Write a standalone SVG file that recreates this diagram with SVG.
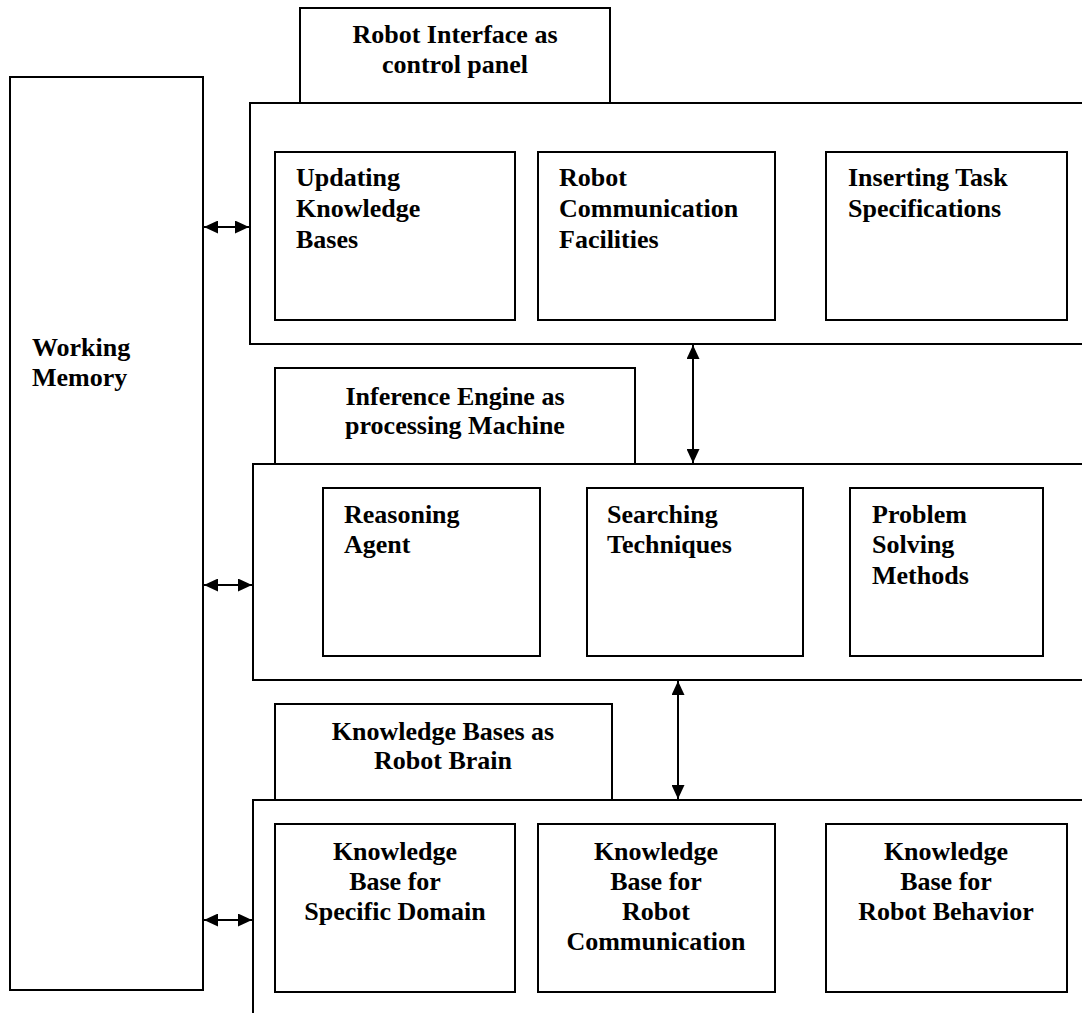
<svg xmlns="http://www.w3.org/2000/svg" width="1082" height="1014" viewBox="0 0 1082 1014">
<style>
.b{fill:#fff;stroke:#000;stroke-width:2}
.l{fill:none;stroke:#000;stroke-width:2}
text{font-family:"Liberation Serif","Times New Roman",serif;font-weight:bold;font-size:26px;fill:#000}
.c{text-anchor:middle}
</style>
<defs>
<marker id="ah" viewBox="0 0 14 13" refX="14" refY="6.5" markerWidth="14" markerHeight="13" markerUnits="userSpaceOnUse" orient="auto-start-reverse">
<path d="M0,0 L14,6.5 L0,13 Z" fill="#000"/>
</marker>
</defs>
<rect width="1082" height="1014" fill="#fff"/>

<g id="working-memory">
<rect class="b" x="10" y="77" width="193" height="913"/>
<text x="32" y="356">Working</text>
<text x="32" y="386">Memory</text>
</g>

<g id="label-interface">
<rect class="b" x="300" y="8" width="310" height="95"/>
<text class="c" x="455" y="43">Robot Interface as</text>
<text class="c" x="455" y="73">control panel</text>
</g>

<g id="panel-interface">
<path class="l" d="M1082,103 H250 V344 H1082"/>
</g>
<g id="updating-kb">
<rect class="b" x="275" y="152" width="240" height="168"/>
<text x="296" y="186">Updating</text>
<text x="296" y="217">Knowledge</text>
<text x="296" y="248">Bases</text>
</g>
<g id="robot-comm-facilities">
<rect class="b" x="538" y="152" width="237" height="168"/>
<text x="559" y="186">Robot</text>
<text x="559" y="217">Communication</text>
<text x="559" y="248">Facilities</text>
</g>
<g id="inserting-task">
<rect class="b" x="826" y="152" width="241" height="168"/>
<text x="848" y="186">Inserting Task</text>
<text x="848" y="217">Specifications</text>
</g>

<g id="label-inference">
<rect class="b" x="275" y="368" width="360" height="96"/>
<text class="c" x="455" y="405">Inference Engine as</text>
<text class="c" x="455" y="434">processing Machine</text>
</g>

<g id="panel-inference">
<path class="l" d="M1082,464 H253 V680 H1082"/>
</g>
<g id="reasoning-agent">
<rect class="b" x="323" y="488" width="217" height="168"/>
<text x="344" y="523">Reasoning</text>
<text x="344" y="553">Agent</text>
</g>
<g id="searching-techniques">
<rect class="b" x="587" y="488" width="216" height="168"/>
<text x="607" y="523">Searching</text>
<text x="607" y="553">Techniques</text>
</g>
<g id="problem-solving">
<rect class="b" x="850" y="488" width="193" height="168"/>
<text x="872" y="523">Problem</text>
<text x="872" y="553">Solving</text>
<text x="872" y="584">Methods</text>
</g>

<g id="label-kb">
<rect class="b" x="275" y="704" width="337" height="96"/>
<text class="c" x="443" y="740">Knowledge Bases as</text>
<text class="c" x="443" y="769">Robot Brain</text>
</g>

<g id="panel-kb">
<path class="l" d="M1082,800 H253 V1013"/>
</g>
<g id="kb-domain">
<rect class="b" x="275" y="824" width="240" height="168"/>
<text class="c" x="395" y="860">Knowledge</text>
<text class="c" x="395" y="890">Base for</text>
<text class="c" x="395" y="920">Specific Domain</text>
</g>
<g id="kb-communication">
<rect class="b" x="538" y="824" width="237" height="168"/>
<text class="c" x="656" y="860">Knowledge</text>
<text class="c" x="656" y="890">Base for</text>
<text class="c" x="656" y="920">Robot</text>
<text class="c" x="656" y="950">Communication</text>
</g>
<g id="kb-behavior">
<rect class="b" x="826" y="824" width="241" height="168"/>
<text class="c" x="946" y="860">Knowledge</text>
<text class="c" x="946" y="890">Base for</text>
<text class="c" x="946" y="920">Robot Behavior</text>
</g>

<g id="connectors">
<line class="l" x1="204" y1="227" x2="249" y2="227" marker-start="url(#ah)" marker-end="url(#ah)"/>
<line class="l" x1="204" y1="585" x2="252" y2="585" marker-start="url(#ah)" marker-end="url(#ah)"/>
<line class="l" x1="204" y1="920" x2="252" y2="920" marker-start="url(#ah)" marker-end="url(#ah)"/>
<line class="l" x1="693" y1="345" x2="693" y2="463" marker-start="url(#ah)" marker-end="url(#ah)"/>
<line class="l" x1="678" y1="681" x2="678" y2="799" marker-start="url(#ah)" marker-end="url(#ah)"/>
</g>
</svg>
